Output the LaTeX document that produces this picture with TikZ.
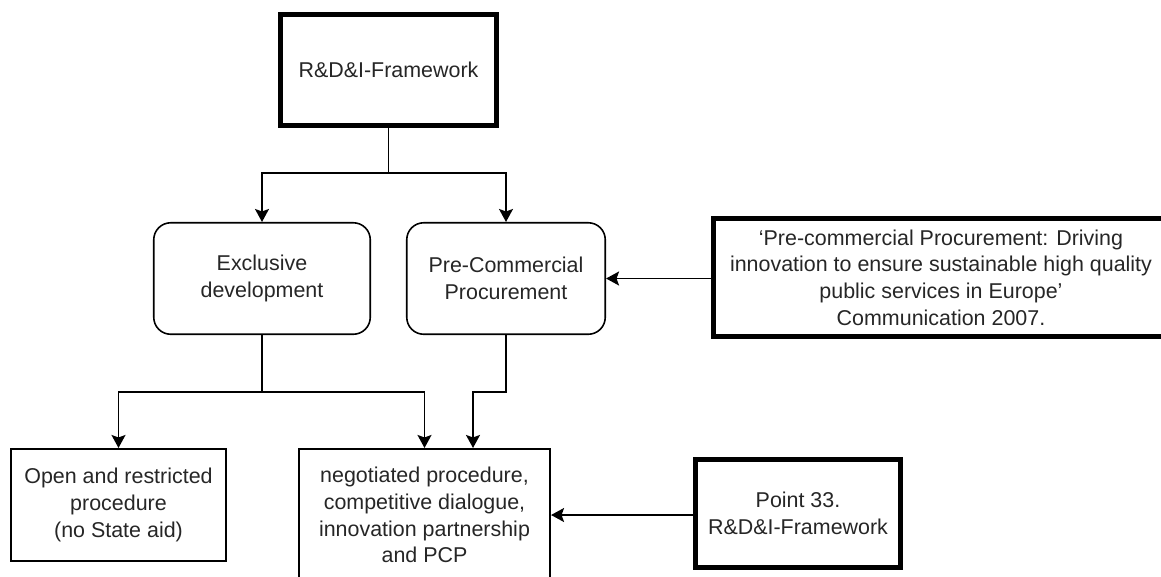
\documentclass[tikz,border=0pt]{standalone}
\usepackage{fontspec}
\setmainfont{Liberation Sans}
\usetikzlibrary{arrows.meta, positioning, calc}
\tikzset{
  box/.style={rectangle, draw, align=center, inner sep=3pt, line width=0.9pt, text=black!85},
  frame/.style={box, line width=2.8pt},
  rbox/.style={box, rounded corners=3.4mm},
  line/.style={-{Stealth[length=2.6mm, width=2.8mm, inset=0.5mm]}, line width=0.9pt}
}

\begin{document}
\begin{tikzpicture}[x=0.2mm, y=-0.2mm, font=\fontsize{12.2}{15.2}\selectfont]
    \useasboundingbox (0,0) rectangle (1161,576);
    \clip (0,0) rectangle (1161,576);
    \node[frame, minimum width=43.2mm, minimum height=22.2mm] (fw) at (388.5,70) {R\&D\&I-Framework};
    \node[rbox, minimum width=43.3mm, minimum height=22.3mm] (excl) at (262,278.5) {Exclusive\\development};
    \node[rbox, minimum width=39.7mm, minimum height=22.3mm] (pcp) at (506,278.5) {Pre-Commercial\\Procurement};
    \node[frame, minimum width=91mm, minimum height=23.6mm] (comm) at (941,277.5) {‘Pre-commercial Procurement: Driving\\innovation to ensure sustainable high quality\\public services in Europe’\\Communication 2007.};
    \node[box, minimum width=43.1mm, minimum height=22.5mm] (open) at (118.5,505) {Open and restricted\\procedure\\(no State aid)};
    \node[box, minimum width=50.3mm, minimum height=26.5mm] (mid) at (424.5,515) {negotiated procedure,\\competitive dialogue,\\innovation partnership\\and PCP};
    \node[frame, minimum width=41mm, minimum height=21.6mm] (p33) at (798,513.5) {Point 33.\\R\&D\&I-Framework};
    \coordinate (split1) at (388.5,173);
    \coordinate (split2) at (262,392);
    \draw[line] (fw) -- (split1) -| (excl);
    \draw[line] (split1) -| (pcp);
    \draw[line] (excl) -- (split2) -| (open);
    \draw[line] (split2) -| (mid);
    \draw[line] (pcp) -- (pcp |- split2) -| ($(mid.north)+(48.5,0)$);
    \draw[line] (comm.west |- pcp) -- (pcp.east);
    \draw[line] (p33.west |- mid) -- (mid.east);
  \end{tikzpicture}
\end{document}
